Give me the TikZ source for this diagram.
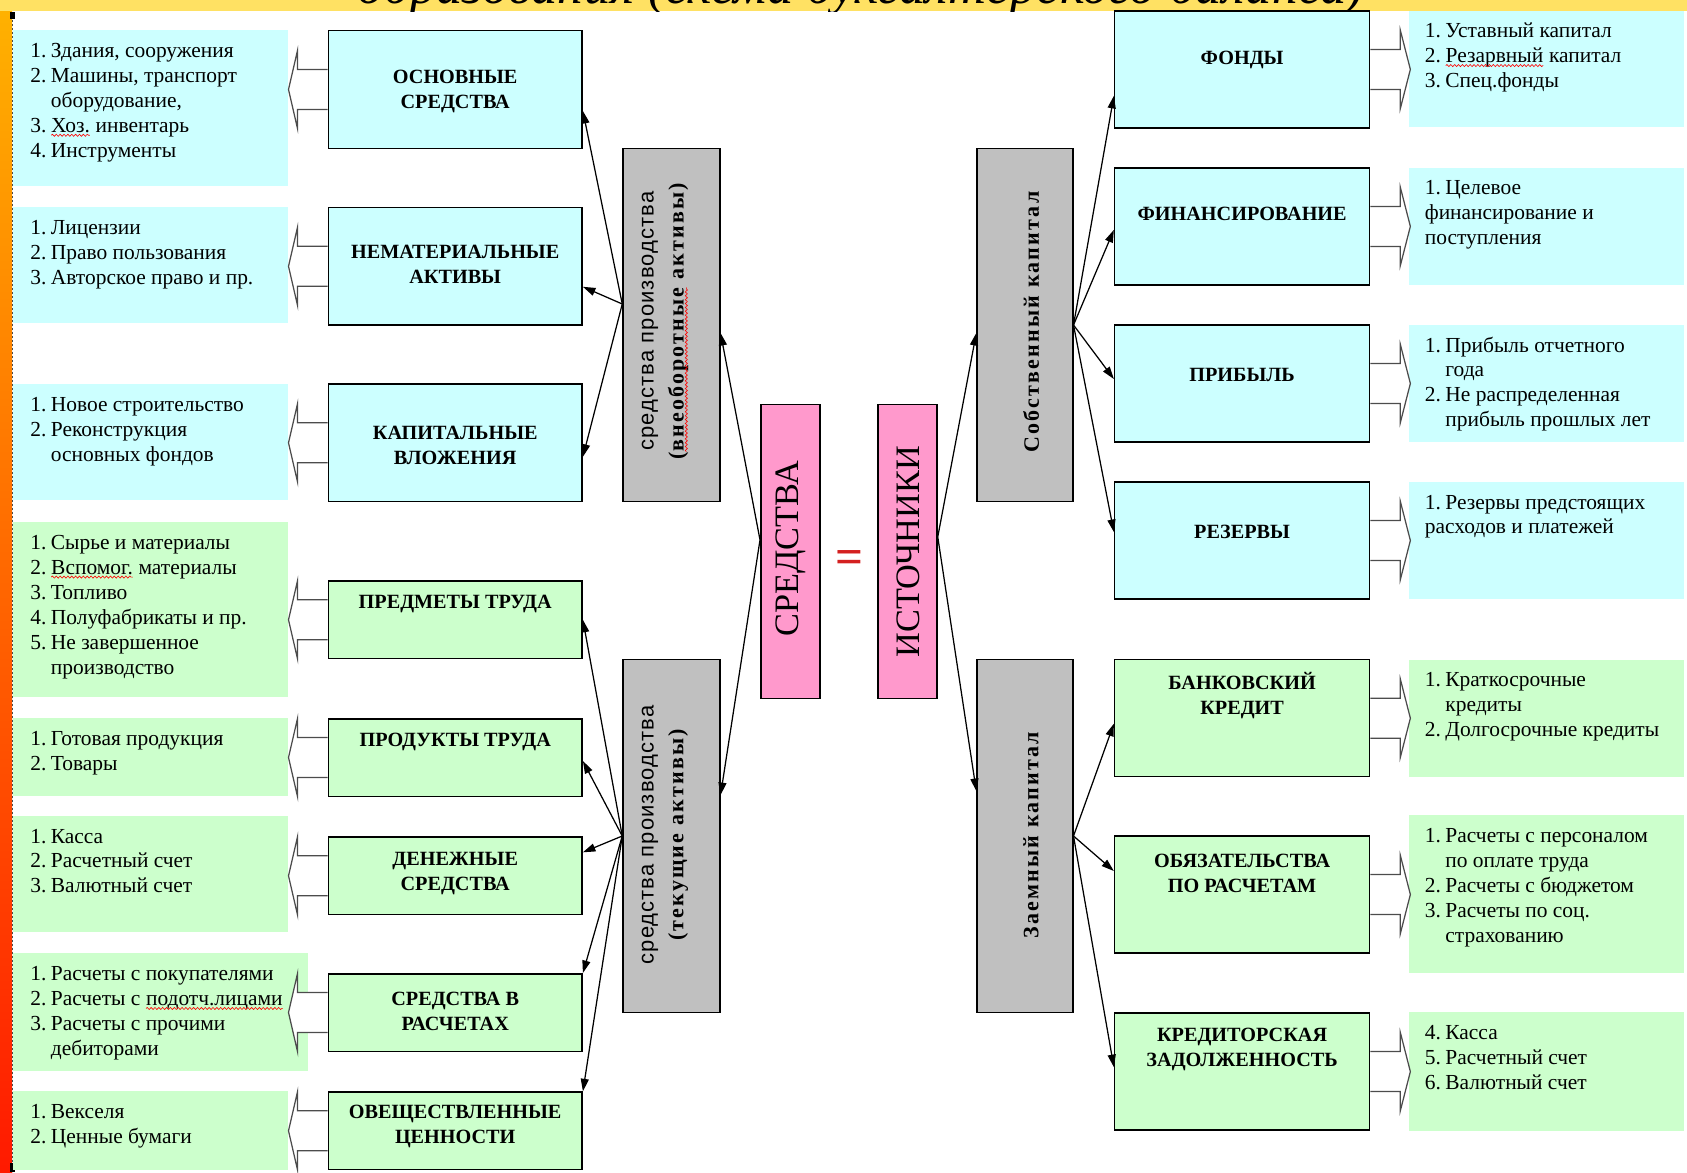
\documentclass[tikz,border=0pt]{standalone}
\usepackage{fontspec}
\setmainfont{Liberation Serif}
\newfontfamily\arialf{Liberation Sans}
\newfontfamily\arialsp[LetterSpace=5]{Liberation Sans}
\newfontfamily\serifsp[LetterSpace=10]{Liberation Serif}
\usetikzlibrary{arrows.meta,decorations.pathmorphing}

\definecolor{cyanbox}{HTML}{CCFFFF}
\definecolor{greenbox}{HTML}{CCFFCC}
\definecolor{graybox}{HTML}{C0C0C0}
\definecolor{pinkbox}{HTML}{FF99CC}
\definecolor{bandyellow}{HTML}{FFE163}
\definecolor{eqred}{HTML}{D42020}

% red wavy underline of the spell checker
\newcommand\redwave[1]{\tikz[baseline=(w.base), x=1pt, y=1pt]{\node[inner sep=0, outer sep=0] (w) {#1};
	\draw[red, line width=0.35pt, decorate, decoration={snake, amplitude=0.6pt, segment length=2.2pt}] ([yshift=-1.6pt]w.base west) -- ([yshift=-1.6pt]w.base east);}}

\begin{document}
\begin{tikzpicture}[x=0.2mm, y=-0.2mm,
	wh/.style 2 args={minimum width=#1*0.2mm, minimum height=#2*0.2mm},
	capbox/.style={draw, line width=0.3mm, fill=cyanbox, inner sep=0},
	curbox/.style={draw, line width=0.3mm, fill=greenbox, inner sep=0},
	capnote/.style={fill=cyanbox, inner sep=0},
	curnote/.style={fill=greenbox, inner sep=0},
	midbox/.style={draw, line width=0.3mm, fill=graybox, inner sep=0},
	sumbox/.style={draw, line width=0.3mm, fill=pinkbox, inner sep=0},
	lst/.style={anchor=base west, inner sep=0, font=\fontsize{12.2}{14.2}\selectfont},
	lbl/.style={inner sep=0, align=center, font=\bfseries\fontsize{11.5}{14.2}\selectfont},
	rot/.style={inner sep=0, align=center, rotate=90},
	conn/.style={-{Triangle[length=2.5mm,width=1.6mm]}, line width=0.25mm},
	blockarr/.style={draw=black!70, fill=white, line width=0.25mm}]
		\useasboundingbox (0,0) rectangle (1687,1172);
		
		% frame of the slide
		\shade[top color=orange!60!yellow, middle color=orange, bottom color=red!80!orange] (0,0) rectangle (12,1172);
		\fill[bandyellow] (0,0) rectangle (1687,11);
		\draw[black!70, line width=0.2mm, dash pattern=on 0.4mm off 0.4mm] (12,12) -- (12,1172);
		\fill (10,12) rectangle (15,19);
		\fill (15,581) rectangle (19,600);
		\fill (10,1163) rectangle (15,1172);
		\begin{scope}
			\clip (0,0) rectangle (1687,11);
			\node[inner sep=0, anchor=base, font=\itshape\fontsize{30}{34}\selectfont] (title) at (861,3) {образования (схема бухгалтерского баланса)};
		\end{scope}
		
		% left notes
		\node[capnote, wh={275.4}{156}] (n1) at (150.6,108.1) {};
		\node[capnote, wh={275.4}{116.2}] (n2) at (150.6,264.7) {};
		\node[capnote, wh={275.4}{116.2}] (n3) at (150.6,442.2) {};
		\node[curnote, wh={275.4}{175.4}] (n4) at (150.6,609.5) {};
		\node[curnote, wh={275.4}{78.6}] (n5) at (150.6,756.9) {};
		\node[curnote, wh={275.4}{116.2}] (n6) at (150.6,873.6) {};
		\node[curnote, wh={294.8}{117.3}] (n7) at (160.3,1011.9) {};
		\node[curnote, wh={275.4}{78.5}] (n8) at (150.6,1130.3) {};
		
		% right notes
		\node[capnote, wh={274.4}{116.2}] (m1) at (1546.6,68.9) {};
		\node[capnote, wh={274.4}{117.2}] (m2) at (1546.6,226.4) {};
		\node[capnote, wh={274.4}{117}] (m3) at (1546.6,383.5) {};
		\node[capnote, wh={274.4}{117}] (m4) at (1546.6,540.5) {};
		\node[curnote, wh={274.4}{117.3}] (m5) at (1546.6,718.2) {};
		\node[curnote, wh={274.4}{157.1}] (m6) at (1546.6,894) {};
		\node[curnote, wh={274.4}{118.4}] (m7) at (1546.6,1071.6) {};
		
		\node[lst] (n1t) at (30,57.6) {\begin{tabular}[t]{@{}p{11.7pt}@{}l@{}}1.&Здания, сооружения\\2.&Машины, транспорт\\&оборудование,\\3.&\redwave{Хоз.} инвентарь\\4.&Инструменты\end{tabular}};
		\node[lst] (n2t) at (30,234.1) {\begin{tabular}[t]{@{}p{11.7pt}@{}l@{}}1.&Лицензии\\2.&Право пользования\\3.&Авторское право и пр.\end{tabular}};
		\node[lst] (n3t) at (30,411.6) {\begin{tabular}[t]{@{}p{11.7pt}@{}l@{}}1.&Новое строительство\\2.&Реконструкция\\&основных фондов\end{tabular}};
		\node[lst] (n4t) at (30,549.3) {\begin{tabular}[t]{@{}p{11.7pt}@{}l@{}}1.&Сырье и материалы\\2.&\redwave{Вспомог.} материалы\\3.&Топливо\\4.&Полуфабрикаты и пр.\\5.&Не завершенное\\&производство\end{tabular}};
		\node[lst] (n5t) at (30,745.1) {\begin{tabular}[t]{@{}p{11.7pt}@{}l@{}}1.&Готовая продукция\\2.&Товары\end{tabular}};
		\node[lst] (n6t) at (30,843) {\begin{tabular}[t]{@{}p{11.7pt}@{}l@{}}1.&Касса\\2.&Расчетный счет\\3.&Валютный счет\end{tabular}};
		\node[lst] (n7t) at (30,980.7) {\begin{tabular}[t]{@{}p{11.7pt}@{}l@{}}1.&Расчеты с покупателями\\2.&Расчеты с \redwave{подотч.лицами}\\3.&Расчеты с прочими\\&дебиторами\end{tabular}};
		\node[lst] (n8t) at (30,1118.5) {\begin{tabular}[t]{@{}p{11.7pt}@{}l@{}}1.&Векселя\\2.&Ценные бумаги\end{tabular}};
		
		\node[lst] (m1t) at (1424.5,37.8) {\begin{tabular}[t]{@{}p{11.7pt}@{}l@{}}1.&Уставный капитал\\2.&\redwave{Резарвный} капитал\\3.&Спец.фонды\end{tabular}};
		\node[lst] (m2t) at (1424.5,194.8) {\begin{tabular}[t]{@{}p{11.7pt}@{}l@{}}1.&Целевое\\\multicolumn{2}{@{}l@{}}{финансирование и}\\\multicolumn{2}{@{}l@{}}{поступления}\end{tabular}};
		\node[lst] (m3t) at (1424.5,352) {\begin{tabular}[t]{@{}p{11.7pt}@{}l@{}}1.&Прибыль отчетного\\&года\\2.&Не распределенная\\&прибыль прошлых лет\end{tabular}};
		\node[lst] (m4t) at (1424.5,509) {\begin{tabular}[t]{@{}p{11.7pt}@{}l@{}}1.&Резервы предстоящих\\\multicolumn{2}{@{}l@{}}{расходов и платежей}\end{tabular}};
		\node[lst] (m5t) at (1424.5,686.5) {\begin{tabular}[t]{@{}p{11.7pt}@{}l@{}}1.&Краткосрочные\\&кредиты\\2.&Долгосрочные кредиты\end{tabular}};
		\node[lst] (m6t) at (1424.5,842.5) {\begin{tabular}[t]{@{}p{11.7pt}@{}l@{}}1.&Расчеты с персоналом\\&по оплате труда\\2.&Расчеты с бюджетом\\3.&Расчеты по соц.\\&страхованию\end{tabular}};
		\node[lst] (m7t) at (1424.5,1039.4) {\begin{tabular}[t]{@{}p{11.7pt}@{}l@{}}4.&Касса\\5.&Расчетный счет\\6.&Валютный счет\end{tabular}};
		
		% boxes of the assets
		\node[capbox, wh={253.9}{118}] (os) at (455.2,89.5) {};
		\node[capbox, wh={253.9}{117.3}] (na) at (455.2,266.3) {};
		\node[capbox, wh={253.9}{117.3}] (kv) at (455.2,442.8) {};
		\node[curbox, wh={253.9}{77.5}] (pt) at (455.2,619.8) {};
		\node[curbox, wh={253.9}{77.5}] (prt) at (455.2,757.5) {};
		\node[curbox, wh={253.9}{77.5}] (ds) at (455.2,875.8) {};
		\node[curbox, wh={253.9}{77.5}] (sr) at (455.2,1012.5) {};
		\node[curbox, wh={253.9}{77.5}] (ov) at (455.2,1130.8) {};
		
		% boxes of the sources
		\node[capbox, wh={255}{117}] (fo) at (1242.1,69.4) {};
		\node[capbox, wh={255}{117}] (fi) at (1242.1,226.4) {};
		\node[capbox, wh={255}{117}] (pr) at (1242.1,383.5) {};
		\node[capbox, wh={255}{117}] (re) at (1242.1,540.5) {};
		\node[curbox, wh={255}{117}] (bk) at (1242.1,718.2) {};
		\node[curbox, wh={255}{117}] (op) at (1242.1,894.5) {};
		\node[curbox, wh={255}{117}] (kz) at (1242.1,1071.6) {};
		
		% block arrows to the notes
		\foreach \b in {os,na,kv,pt,prt,ds,sr,ov}
			\draw[blockarr] (\b.west) ++(0,-20) -- ++(-30,0) -- ++(0,-19) -- ++(-9,39) -- ++(9,39) -- ++(0,-19) -- ++(30,0);
		\foreach \b in {fo,fi,pr,re,bk,op,kz}
			\draw[blockarr] (\b.east) ++(0,-20) -- ++(30,0) -- ++(0,-19) -- ++(10,39) -- ++(-10,39) -- ++(0,-19) -- ++(-30,0);
		
		\node[midbox, wh={96.8}{353}] (gup) at (671.4,325) {};
		\node[midbox, wh={96.8}{353}] (glow) at (671.4,836) {};
		\node[midbox, wh={95.7}{353}] (gru) at (1024.9,325) {};
		\node[midbox, wh={95.7}{353}] (grl) at (1024.9,836) {};
		\node[sumbox, wh={59.1}{293.8}] (sredstva) at (790.3,551.4) {};
		\node[sumbox, wh={59}{293.8}] (istochniki) at (907.5,551.4) {};
		
		% labels
		\node[lbl] (osT) at (455.2,91.2) {ОСНОВНЫЕ\\СРЕДСТВА};
		\node[lbl] (naT) at (455.2,264.5) {НЕМАТЕРИАЛЬНЫЕ\\АКТИВЫ};
		\node[lbl] (kvT) at (455.2,445.2) {КАПИТАЛЬНЫЕ\\ВЛОЖЕНИЯ};
		\node[lbl] (ptT) at (455.2,603.9) {ПРЕДМЕТЫ ТРУДА};
		\node[lbl] (prtT) at (455.2,741.5) {ПРОДУКТЫ ТРУДА};
		\node[lbl] (dsT) at (455.2,873.4) {ДЕНЕЖНЫЕ\\СРЕДСТВА};
		\node[lbl] (srT) at (455.2,1011.1) {СРЕДСТВА В\\РАСЧЕТАХ};
		\node[lbl] (ovT) at (455.2,1126.2) {ОВЕЩЕСТВЛЕННЫЕ\\ЦЕННОСТИ};
		\node[lbl] (foT) at (1242.1,59.5) {ФОНДЫ};
		\node[lbl] (fiT) at (1242.1,214.4) {ФИНАНСИРОВАНИЕ};
		\node[lbl] (prT) at (1242.1,374.7) {ПРИБЫЛЬ};
		\node[lbl] (reT) at (1242.1,531.8) {РЕЗЕРВЫ};
		\node[lbl] (bkT) at (1242.1,695.8) {БАНКОВСКИЙ\\КРЕДИТ};
		\node[lbl] (opT) at (1242.1,873.4) {ОБЯЗАТЕЛЬСТВА\\ПО РАСЧЕТАМ};
		\node[lbl] (kzT) at (1242.1,1049.8) {КРЕДИТОРСКАЯ\\ЗАДОЛЖЕННОСТЬ};
		
		\node[rot, font=\fontsize{12.5}{17}\selectfont] (gupT) at (665,321) {{\arialsp средства производства}\\{\serifsp\bfseries(\redwave{внеоборотные} активы)}};
		\node[rot, font=\fontsize{12.5}{17}\selectfont] (glowT) at (665,835) {{\arialsp средства производства}\\{\serifsp\bfseries(текущие активы)}};
		\node[rot, font=\serifsp\bfseries\fontsize{12.5}{17}\selectfont] (gruT) at (1031,322) {Собственный капитал};
		\node[rot, font=\serifsp\bfseries\fontsize{12.5}{17}\selectfont] (grlT) at (1031,835) {Заемный капитал};
		\node[rot, font=\fontsize{19.5}{21}\selectfont] (sredstvaT) at (791,548.5) {СРЕДСТВА};
		\node[rot, font=\fontsize{19.5}{21}\selectfont] (istochnikiT) at (908,551.7) {ИСТОЧНИКИ};
		\node[inner sep=0, text=eqred, font=\bfseries\fontsize{28}{28}\selectfont] (eq) at (850,562) {=};
		
		% connectors
		\path [conn] ([yshift=2.3mm]sredstva.west) edge ([yshift=-1.6mm]gup.east);
		\path [conn] ([yshift=2.3mm]sredstva.west) edge ([yshift=8.2mm]glow.east);
		\path [conn] ([yshift=4.2mm]gup.west) edge ([yshift=-4.3mm]os.east);
		\path [conn] ([yshift=4.2mm]gup.west) edge ([yshift=-4.1mm]na.east);
		\path [conn] ([yshift=4.2mm]gup.west) edge ([yshift=-2.8mm]kv.east);
		\path [conn] (glow.west) edge (pt.east);
		\path [conn] (glow.west) edge ([yshift=-0.7mm]prt.east);
		\path [conn] (glow.west) edge ([yshift=4.7mm]ds.east);
		\path [conn] (glow.west) edge (sr.north east);
		\path [conn] (glow.west) edge (ov.north east);
		
		\path [conn] ([yshift=2.9mm]istochniki.east) edge ([yshift=-1.6mm]gru.west);
		\path [conn] ([yshift=2.9mm]istochniki.east) edge ([yshift=9mm]grl.west);
		\path [conn] (gru.east) edge ([yshift=-5.3mm]fo.west);
		\path [conn] (gru.east) edge ([yshift=-0.7mm]fi.west);
		\path [conn] (gru.east) edge ([yshift=0.9mm]pr.west);
		\path [conn] (gru.east) edge ([yshift=1.7mm]re.west);
		\path [conn] (grl.east) edge ([yshift=-1.1mm]bk.west);
		\path [conn] (grl.east) edge ([yshift=4.7mm]op.west);
		\path [conn] (grl.east) edge ([yshift=0.9mm]kz.west);
		
\end{tikzpicture}
\end{document}
